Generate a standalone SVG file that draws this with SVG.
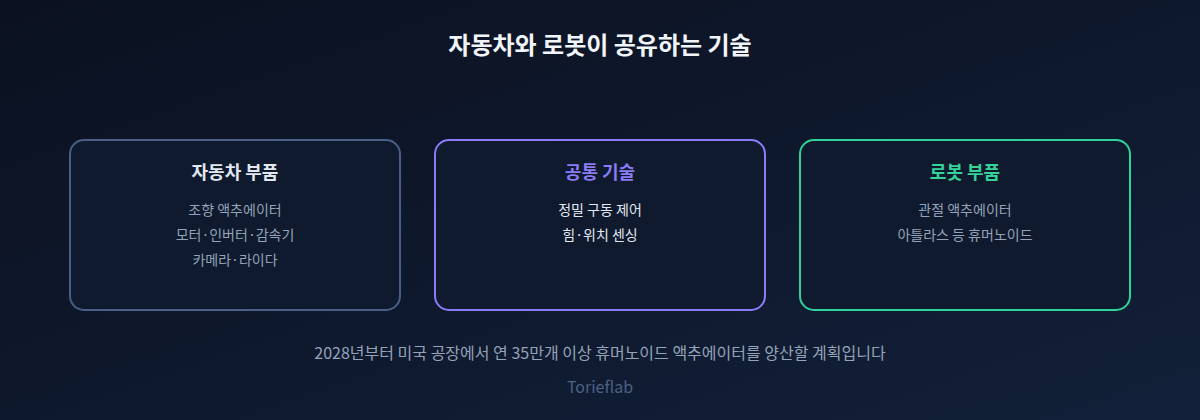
<svg xmlns="http://www.w3.org/2000/svg" width="1200" height="420" viewBox="0 0 1200 420">
<defs>
<linearGradient id="bg" x1="0" y1="0" x2="1" y2="1">
<stop offset="0" stop-color="#0b1120"/>
<stop offset="1" stop-color="#122039"/>
</linearGradient>
</defs>
<style>
text{font-family:"Noto Sans CJK KR","Noto Sans",sans-serif;text-anchor:middle}
.box{fill:#0f1a2e;stroke-width:2}
.t{font-size:18px;font-weight:700}
.i{font-size:14px;fill:#94a3b8}
</style>
<rect width="1200" height="420" fill="url(#bg)"/>
<text x="600" y="54" font-size="24" font-weight="700" fill="#f1f5f9">자동차와 로봇이 공유하는 기술</text>
<g id="connectors"/>
<g id="car">
<rect class="box" x="70" y="140" width="330" height="170" rx="14" stroke="#4a5f85"/>
<text class="t" x="235" y="179" fill="#e2e8f0">자동차 부품</text>
<text class="i" x="235" y="215">조향 액추에이터</text>
<text class="i" x="235" y="240">모터·인버터·감속기</text>
<text class="i" x="235" y="265">카메라·라이다</text>
</g>
<g id="common">
<rect class="box" x="435" y="140" width="330" height="170" rx="14" stroke="#8b7cf6"/>
<text class="t" x="600" y="179" fill="#8b7cf6">공통 기술</text>
<text class="i" x="600" y="215" style="fill:#e2e8f0">정밀 구동 제어</text>
<text class="i" x="600" y="240" style="fill:#e2e8f0">힘·위치 센싱</text>
</g>
<g id="robot">
<rect class="box" x="800" y="140" width="330" height="170" rx="14" stroke="#2fd39a"/>
<text class="t" x="965" y="179" fill="#34d399">로봇 부품</text>
<text class="i" x="965" y="215">관절 액추에이터</text>
<text class="i" x="965" y="240">아틀라스 등 휴머노이드</text>
</g>
<text x="600" y="359" font-size="16" fill="#94a3b8">2028년부터 미국 공장에서 연 35만개 이상 휴머노이드 액추에이터를 양산할 계획입니다</text>
<text x="600" y="393" font-size="16" fill="#4b6185">Torieflab</text>
</svg>
